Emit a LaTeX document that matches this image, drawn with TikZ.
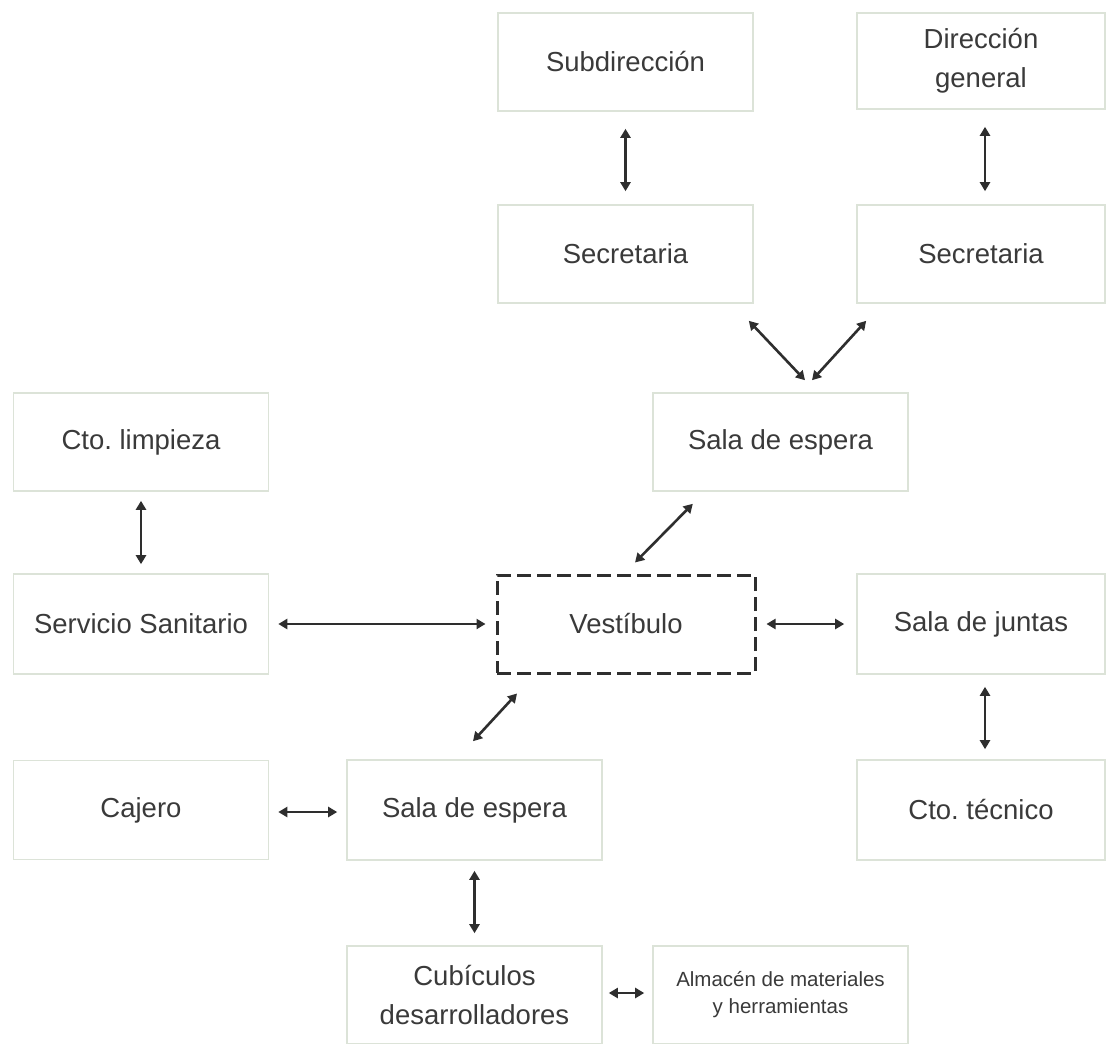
\documentclass[tikz,border=0pt]{standalone}
\usepackage{fontspec}
\setmainfont{Liberation Sans}
\usetikzlibrary{arrows.meta}
\frenchspacing
\definecolor{boxline}{HTML}{DCE3D8}
\definecolor{txt}{HTML}{3A3A3A}
\definecolor{arr}{HTML}{2E2E2E}
\tikzset{
  box/.style={draw=boxline, line width=1.6pt, fill=white, rectangle, inner sep=0pt,
    minimum width=255pt, minimum height=98pt, align=center, text=txt,
    font=\fontsize{27.5}{39}\selectfont},
  smallbox/.style={box, font=\fontsize{20.5}{27}\selectfont},
  dashbox/.style={box, draw=arr, line width=3pt, dash pattern=on 14pt off 6pt},
  link/.style={draw=arr, line width=2.6pt, {Triangle[length=9pt,width=10pt]}-{Triangle[length=9pt,width=10pt]}}
}
\begin{document}
\begin{tikzpicture}[x=1pt,y=-1pt]
\useasboundingbox[fill=white] (0,0) rectangle (1106,1044);
\node[box] (sub) at (625.5,62) {Subdirección};
\node[box, minimum width=248pt, minimum height=96pt] (dir) at (981,61) {Dirección\\general};
\node[box] (sec1) at (625.5,254) {Secretaria};
\node[box, minimum width=248pt] (sec2) at (981,254) {Secretaria};
\node[box] (sala1) at (780.5,442) {Sala de espera};
\node[box] (limp) at (141,442) {Cto.\ limpieza};
\node[box, minimum height=100pt] (serv) at (141,624) {Servicio Sanitario};
\node[dashbox, minimum width=258pt] (vest) at (626,624) {Vestíbulo};
\node[box, minimum width=248pt, minimum height=100pt] (junt) at (981,624) {Sala de juntas};
\node[box, minimum height=99pt] (caj) at (141,810) {Cajero};
\node[box, minimum height=100pt] (sala2) at (474.5,810) {Sala de espera};
\node[box, minimum width=248pt, minimum height=100pt] (tec) at (981,810) {Cto.\ técnico};
\node[box] (cub) at (474.5,995) {Cubículos\\desarrolladores};
\node[smallbox] (alm) at (780.5,995) {Almacén de materiales\\y herramientas};

\draw[link] ([yshift=-17pt]sub.south) -- ([yshift=13pt]sec1.north);
\draw[link] ([xshift=4pt,yshift=-17pt]dir.south) -- ([xshift=4pt,yshift=13pt]sec2.north);
\draw[link] ([xshift=-5pt,yshift=-17pt]sec1.south east) -- ([xshift=24.5pt,yshift=12pt]sala1.north);
\draw[link] ([xshift=10pt,yshift=-17pt]sec2.south west) -- ([xshift=31.5pt,yshift=12pt]sala1.north);
\draw[link] ([yshift=-9pt]limp.south) -- ([yshift=9pt]serv.north);
\draw[link] ([xshift=-216pt,yshift=-12pt]sala1.south east) -- ([xshift=9pt,yshift=11pt]vest.north);
\draw[link] ([xshift=9pt]serv.east) -- ([xshift=-10pt]vest.west);
\draw[link] ([xshift=10pt]vest.east) -- ([xshift=-12pt]junt.west);
\draw[link] ([xshift=4pt,yshift=-12pt]junt.south) -- ([xshift=4pt,yshift=10pt]tec.north);
\draw[link] ([xshift=-109pt,yshift=-19pt]vest.south) -- ([xshift=-1.5pt,yshift=18pt]sala2.north);
\draw[link] ([xshift=9pt,yshift=-2pt]caj.east) -- ([xshift=-9pt,yshift=-2pt]sala2.west);
\draw[link] ([yshift=-10pt]sala2.south) -- ([yshift=12pt]cub.north);
\draw[link] ([xshift=6pt,yshift=2pt]cub.east) -- ([xshift=-8pt,yshift=2pt]alm.west);
\end{tikzpicture}
\end{document}
